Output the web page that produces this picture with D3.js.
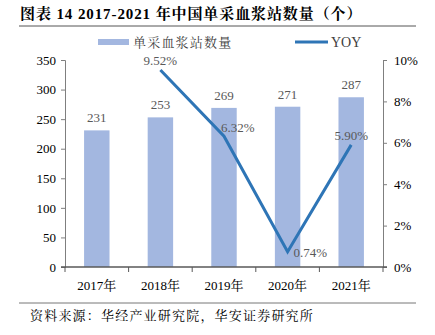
<!DOCTYPE html>
<html><head><meta charset="utf-8">
<script src="https://cdn.jsdelivr.net/npm/d3@7"></script>
<style>body{margin:0;background:#fff}svg{display:block}</style>
</head><body>
<script>
const categories = ["2017年","2018年","2019年","2020年","2021年"];
const stations = [231,253,269,271,287];
const yoy = [null,9.52,6.32,0.74,5.90];
const leftTicks = [0,50,100,150,200,250,300,350];
const rightTicks = [0,2,4,6,8,10];
const titleText = "图表 14 2017-2021 年中国单采血浆站数量（个）";
const sourceText = "资料来源：华经产业研究院，华安证券研究所";
const seriesNames = ["单采血浆站数量","YOY"];

const W=435,H=335;
const serif = "'Liberation Serif','Times New Roman','Noto Serif CJK SC','Noto Sans CJK SC',serif";
const svg = d3.select("body").append("svg").attr("width",W).attr("height",H);

const m = {l:65, r:383, t:60, b:267};
const x = d3.scaleBand().domain(categories).range([m.l,m.r]).paddingInner(0.6).paddingOuter(0.3);
const xb = d3.scaleBand().domain(categories).range([m.l,m.r]);
const yL = d3.scaleLinear().domain([0,350]).range([m.b,m.t]);
const yR = d3.scaleLinear().domain([0,10]).range([m.b,m.t]);

// title
svg.append("text").attr("x",20).attr("y",19).text(titleText).attr("letter-spacing",0.9)
  .attr("font-family",serif).attr("font-weight","bold").attr("font-size",15).attr("fill","#000");
svg.append("line").attr("x1",19).attr("x2",416).attr("y1",26).attr("y2",26).attr("stroke","#555").attr("stroke-width",1);

// legend
svg.append("rect").attr("x",98).attr("y",39).attr("width",31).attr("height",6).attr("fill","#a3b7e0");
svg.append("text").attr("x",133).attr("y",47).text(seriesNames[0]).attr("letter-spacing",1.2).attr("font-family",serif).attr("font-size",13).attr("fill","#404040");
svg.append("line").attr("x1",295).attr("x2",328).attr("y1",42).attr("y2",42).attr("stroke","#2e75b6").attr("stroke-width",3);
svg.append("text").attr("x",331).attr("y",47).text(seriesNames[1]).attr("font-family",serif).attr("font-size",14).attr("fill","#404040");

// bars
svg.selectAll("rect.bar").data(stations).enter().append("rect")
  .attr("x",(d,i)=>x(categories[i])).attr("width",x.bandwidth())
  .attr("y",d=>yL(d)).attr("height",d=>yL(0)-yL(d)).attr("fill","#a3b7e0");
svg.selectAll("text.bl").data(stations).enter().append("text")
  .attr("x",(d,i)=>x(categories[i])+x.bandwidth()/2).attr("y",d=>yL(d)-8)
  .attr("text-anchor","middle").text(d=>d).attr("font-family",serif).attr("font-size",13).attr("fill","#595959");

// axes
const axL = svg.append("g").attr("transform",`translate(${m.l},0)`)
  .call(d3.axisLeft(yL).tickValues(leftTicks).tickSize(4).tickPadding(5));
const axR = svg.append("g").attr("transform",`translate(${m.r},0)`)
  .call(d3.axisRight(yR).tickValues(rightTicks).tickSize(4).tickPadding(7).tickFormat(d=>d+"%"));
[axL,axR].forEach(g=>{
  g.select(".domain").attr("stroke","#7f7f7f");
  g.selectAll(".tick line").attr("stroke","#7f7f7f");
  g.selectAll("text").attr("font-family",serif).attr("font-size",13).attr("fill","#000");
});
// x axis
const gx = svg.append("g").attr("transform",`translate(0,${m.b})`);
gx.append("line").attr("x1",m.l-4).attr("x2",m.r+4).attr("stroke","#595959").attr("stroke-width",1.5);
const bounds = categories.map(c=>xb(c)).concat([m.r]);
gx.selectAll("line.t").data(bounds).enter().append("line")
  .attr("x1",d=>d).attr("x2",d=>d).attr("y1",0).attr("y2",5).attr("stroke","#595959");
gx.selectAll("text").data(categories).enter().append("text")
  .attr("x",d=>xb(d)+xb.bandwidth()/2).attr("y",23).attr("text-anchor","middle")
  .text(d=>d).attr("font-family",serif).attr("font-size",13).attr("fill","#000");

// line
const pts = yoy.map((v,i)=>({v,c:categories[i]})).filter(d=>d.v!==null);
const line = d3.line().x(d=>xb(d.c)+xb.bandwidth()/2).y(d=>yR(d.v));
svg.append("path").datum(pts).attr("d",line).attr("fill","none").attr("stroke","#2e75b6").attr("stroke-width",3);
const off = {1:[0,-5,"middle"],2:[-3,-4,"start"],3:[6,5,"start"],4:[0,-5,"middle"]};
svg.selectAll("text.yl").data(pts).enter().append("text")
  .attr("x",d=>{const i=categories.indexOf(d.c);return xb(d.c)+xb.bandwidth()/2+off[i][0];})
  .attr("y",d=>{const i=categories.indexOf(d.c);return yR(d.v)+off[i][1];})
  .attr("text-anchor",d=>off[categories.indexOf(d.c)][2])
  .text(d=>d.v.toFixed(2)+"%").attr("font-family",serif).attr("font-size",13).attr("fill","#595959");

// source
svg.append("line").attr("x1",19).attr("x2",416).attr("y1",303).attr("y2",303).attr("stroke","#777").attr("stroke-width",1);
svg.append("text").attr("x",30).attr("y",320).text(sourceText).attr("letter-spacing",1.2).attr("font-family",serif).attr("font-size",13).attr("fill","#000");
</script>
</body></html>
